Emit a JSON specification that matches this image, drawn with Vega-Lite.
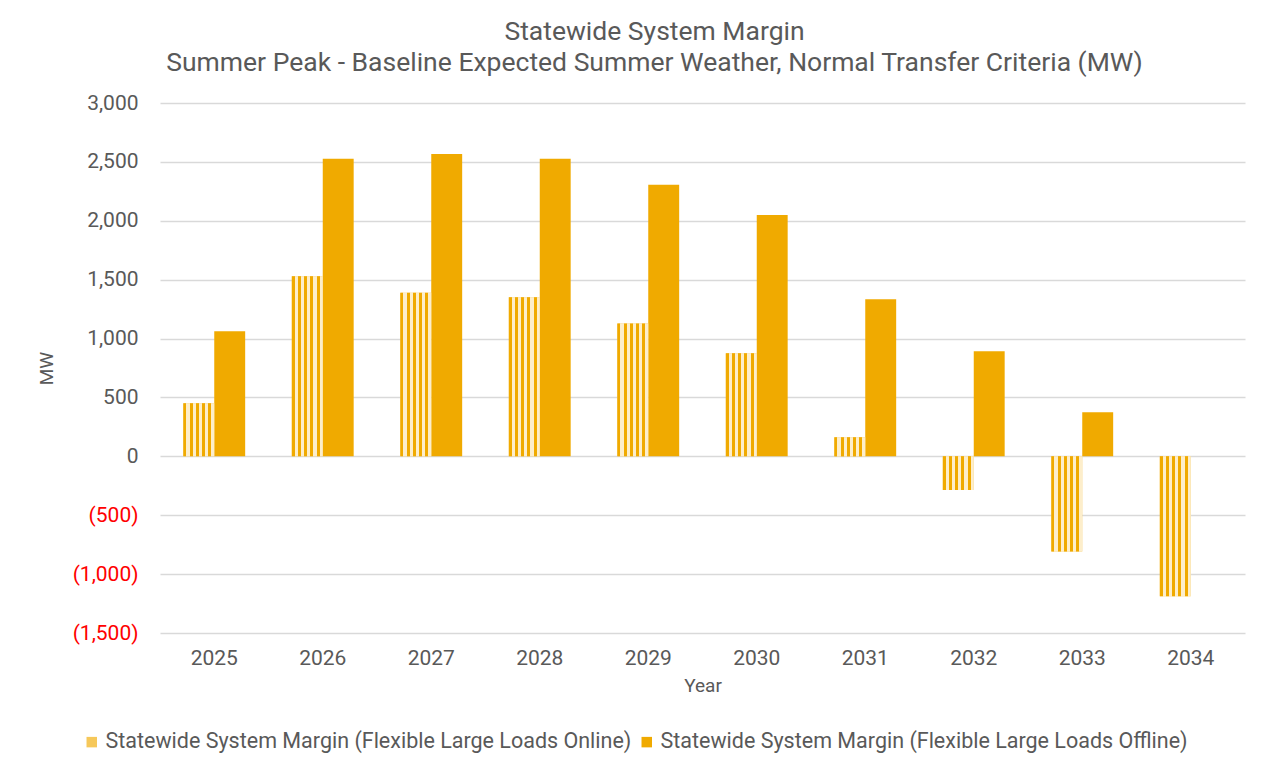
{
  "$schema": "https://vega.github.io/schema/vega-lite/v6.json",
  "width": 1085,
  "height": 530,
  "autosize": {"type": "none"},
  "padding": {"left": 160, "top": 103, "right": 20, "bottom": 134},
  "background": "white",
  "config": {
    "font": "Roboto",
    "view": {"stroke": null},
    "axis": {"labelColor": "#595959", "titleColor": "#595959", "labelFontSize": 21, "titleFontSize": 19, "titleFontWeight": "normal"}
  },
  "title": {
    "text": ["Statewide System Margin", "Summer Peak - Baseline Expected Summer Weather, Normal Transfer Criteria (MW)"],
    "fontSize": 26.5,
    "fontWeight": "normal",
    "color": "#595959",
    "anchor": "middle",
    "frame": "group",
    "dx": -48,
    "lineHeight": 31,
    "offset": 16
  },
  "data": {
    "values": [
      {"year": "2025", "series": "Statewide System Margin (Flexible Large Loads Online)", "value": 450},
      {"year": "2025", "series": "Statewide System Margin (Flexible Large Loads Offline)", "value": 1062},
      {"year": "2026", "series": "Statewide System Margin (Flexible Large Loads Online)", "value": 1530},
      {"year": "2026", "series": "Statewide System Margin (Flexible Large Loads Offline)", "value": 2527},
      {"year": "2027", "series": "Statewide System Margin (Flexible Large Loads Online)", "value": 1388},
      {"year": "2027", "series": "Statewide System Margin (Flexible Large Loads Offline)", "value": 2567},
      {"year": "2028", "series": "Statewide System Margin (Flexible Large Loads Online)", "value": 1350},
      {"year": "2028", "series": "Statewide System Margin (Flexible Large Loads Offline)", "value": 2527},
      {"year": "2029", "series": "Statewide System Margin (Flexible Large Loads Online)", "value": 1128},
      {"year": "2029", "series": "Statewide System Margin (Flexible Large Loads Offline)", "value": 2305},
      {"year": "2030", "series": "Statewide System Margin (Flexible Large Loads Online)", "value": 875},
      {"year": "2030", "series": "Statewide System Margin (Flexible Large Loads Offline)", "value": 2050},
      {"year": "2031", "series": "Statewide System Margin (Flexible Large Loads Online)", "value": 162},
      {"year": "2031", "series": "Statewide System Margin (Flexible Large Loads Offline)", "value": 1334},
      {"year": "2032", "series": "Statewide System Margin (Flexible Large Loads Online)", "value": -286},
      {"year": "2032", "series": "Statewide System Margin (Flexible Large Loads Offline)", "value": 892},
      {"year": "2033", "series": "Statewide System Margin (Flexible Large Loads Online)", "value": -808},
      {"year": "2033", "series": "Statewide System Margin (Flexible Large Loads Offline)", "value": 374},
      {"year": "2034", "series": "Statewide System Margin (Flexible Large Loads Online)", "value": -1188},
      {"year": "2034", "series": "Statewide System Margin (Flexible Large Loads Offline)", "value": 0}
    ]
  },
  "encoding": {
    "x": {
      "field": "year",
      "type": "nominal",
      "title": "Year",
      "scale": {"paddingInner": 0.43, "paddingOuter": 0.215},
      "axis": {"labelAngle": 0, "domain": false, "ticks": false, "labelPadding": 14, "titlePadding": 8, "grid": false}
    },
    "xOffset": {
      "field": "series",
      "type": "nominal",
      "scale": {"domain": ["Statewide System Margin (Flexible Large Loads Online)", "Statewide System Margin (Flexible Large Loads Offline)"], "paddingInner": 0}
    },
    "y": {
      "field": "value",
      "type": "quantitative",
      "title": "MW",
      "scale": {"domain": [-1500, 3000], "nice": false},
      "axis": {
        "values": [-1500, -1000, -500, 0, 500, 1000, 1500, 2000, 2500, 3000],
        "labelExpr": "datum.value < 0 ? '(' + format(-datum.value, ',') + ')' : format(datum.value, ',')",
        "labelColor": {"condition": {"test": "datum.value < 0", "value": "#ff0000"}, "value": "#595959"},
        "domain": false,
        "ticks": false,
        "labelPadding": 22,
        "titlePadding": 16,
        "grid": true,
        "gridColor": "#d9d9d9",
        "gridWidth": 1.5
      }
    }
  },
  "layer": [
    {
      "mark": {"type": "bar"},
      "encoding": {
        "color": {
          "field": "series",
          "type": "nominal",
          "scale": {"domain": ["Statewide System Margin (Flexible Large Loads Online)", "Statewide System Margin (Flexible Large Loads Offline)"], "range": ["#f6c85a", "#f0aa00"]},
          "legend": {
            "title": null,
            "orient": "none",
            "legendX": -79,
            "legendY": 628,
            "direction": "horizontal",
            "labelFontSize": 21.5,
            "labelColor": "#595959",
            "symbolType": "square",
            "symbolSize": 110,
            "symbolStrokeWidth": 0,
            "columnPadding": 4,
            "labelOffset": 3,
            "labelLimit": 700
          }
        }
      }
    },
    {
      "transform": [{"filter": "datum.series == 'Statewide System Margin (Flexible Large Loads Online)'"}],
      "mark": {
        "type": "bar",
        "fill": {
          "gradient": "linear",
          "x1": 0, "x2": 1, "y1": 0, "y2": 0,
          "stops": [
            {"offset": 0, "color": "#f0aa00"}, {"offset": 0.1, "color": "#f0aa00"},
            {"offset": 0.1, "color": "#fdeecb"}, {"offset": 0.2, "color": "#fdeecb"},
            {"offset": 0.2, "color": "#f0aa00"}, {"offset": 0.3, "color": "#f0aa00"},
            {"offset": 0.3, "color": "#fdeecb"}, {"offset": 0.4, "color": "#fdeecb"},
            {"offset": 0.4, "color": "#f0aa00"}, {"offset": 0.5, "color": "#f0aa00"},
            {"offset": 0.5, "color": "#fdeecb"}, {"offset": 0.6, "color": "#fdeecb"},
            {"offset": 0.6, "color": "#f0aa00"}, {"offset": 0.7, "color": "#f0aa00"},
            {"offset": 0.7, "color": "#fdeecb"}, {"offset": 0.8, "color": "#fdeecb"},
            {"offset": 0.8, "color": "#f0aa00"}, {"offset": 0.9, "color": "#f0aa00"},
            {"offset": 0.9, "color": "#fdeecb"}, {"offset": 1, "color": "#fdeecb"}
          ]
        }
      },
      "encoding": {}
    }
  ]
}
